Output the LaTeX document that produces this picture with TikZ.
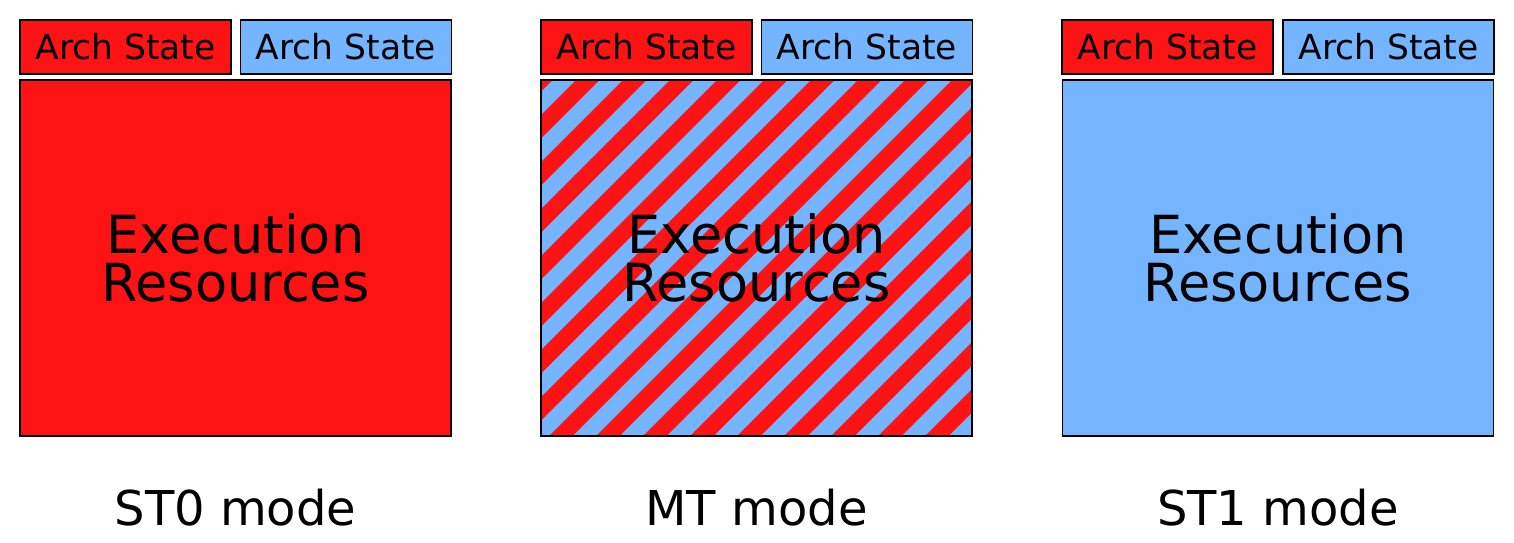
\documentclass[tikz,border=0pt]{standalone}
\usepackage{fontspec}
\setmainfont{DejaVu Sans}
\definecolor{redc}{RGB}{253,19,19}
\definecolor{bluec}{RGB}{117,181,255}
\begin{document}
\begin{tikzpicture}[x=1pt,y=-1pt,
  box/.style={draw=black,line width=1.7pt,inner sep=0pt,outer sep=0pt},
  arch/.style={box,minimum width=211pt,minimum height=54pt,font=\fontsize{34.5}{40}\selectfont},
  exec/.style={box,minimum width=431pt,minimum height=356pt},
  exectext/.style={align=center,font=\fontsize{52.5}{48}\selectfont},
  modelabel/.style={font=\fontsize{48}{56}\selectfont}]
\useasboundingbox (0,0) rectangle (1514,543);
% ST0
\node[arch,fill=redc] (a0r) at (125.5,47) {Arch State};
\node[arch,fill=bluec] (a0b) at (346,47) {Arch State};
\node[exec,fill=redc] (e0) at (235.5,258) {};
\node[exectext] (t0) at (e0.center) {Execution\\Resources};
\node[modelabel] (m0) at (235.5,508) {ST0 mode};
% MT
\node[arch,fill=redc] (a1r) at (646.5,47) {Arch State};
\node[arch,fill=bluec] (a1b) at (867,47) {Arch State};
\node[exec,fill=bluec] (e1) at (756.5,258) {};
\begin{scope}
\clip (e1.south west) rectangle (e1.north east);
\foreach \k in {-9,...,9} {
  \fill[redc] ({549+47*\k},436) -- ({572.5+47*\k},436) -- ({572.5+47*\k+356},80) -- ({549+47*\k+356},80) -- cycle;
}
\end{scope}
\draw[line width=1.7pt] (e1.south west) rectangle (e1.north east);
\node[exectext] (t1) at (e1.center) {Execution\\Resources};
\node[modelabel] (m1) at (756.5,508) {MT mode};
% ST1
\node[arch,fill=redc] (a2r) at (1167.5,47) {Arch State};
\node[arch,fill=bluec] (a2b) at (1388.5,47) {Arch State};
\node[exec,fill=bluec] (e2) at (1278,258) {};
\node[exectext] (t2) at (e2.center) {Execution\\Resources};
\node[modelabel] (m2) at (1278,508) {ST1 mode};
\end{tikzpicture}
\end{document}
